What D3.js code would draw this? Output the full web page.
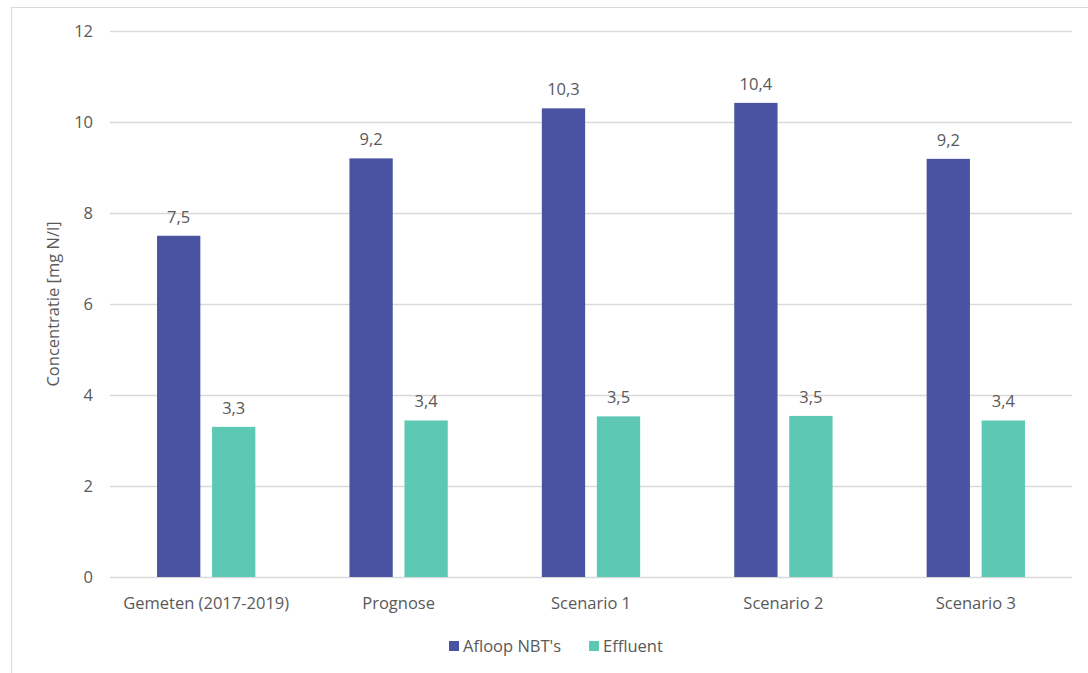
<!DOCTYPE html>
<html>
<head>
<meta charset="utf-8">
<script src="https://cdn.jsdelivr.net/npm/d3@7"></script>
<style>
  body { margin: 0; background: #fff; }
  text { font-family: "Open Sans", sans-serif; fill: #595959; }
</style>
</head>
<body>
<div id="chart"></div>
<script>
// data
const categories = ["Gemeten (2017-2019)", "Prognose", "Scenario 1", "Scenario 2", "Scenario 3"]
const seriesNames = ["Afloop NBT's", "Effluent"]
const afloop = [7.5, 9.2, 10.3, 10.42, 9.19]
const effluent = [3.3, 3.44, 3.53, 3.54, 3.44]
const yTicks = [0, 2, 4, 6, 8, 10, 12]
const colors = ["#4A52A2", "#5DC9B4"]

var width = 1088,
    height = 673
var margin = {top: 31, right: 16, bottom: 96, left: 110}
var fontSize = "16.5px"

var svg = d3.select("#chart")
  .append("svg")
    .attr("width", width)
    .attr("height", height)

// outer frame
svg.append("rect")
  .attr("x", 11.5).attr("y", 7.5)
  .attr("width", 1100).attr("height", 700)
  .attr("fill", "none")
  .attr("stroke", "#d9d9d9")

var x0 = d3.scaleBand()
  .domain(categories)
  .range([margin.left, width - margin.right])

var x1 = d3.scaleBand()
  .domain(seriesNames)
  .range([0, x0.bandwidth()])
  .paddingInner(0.213)
  .paddingOuter(0.855)

var y = d3.scaleLinear()
  .domain([0, 12])
  .range([height - margin.bottom, margin.top])

// gridlines
svg.append("g")
  .selectAll("line")
  .data(yTicks)
  .enter()
  .append("line")
    .attr("x1", margin.left)
    .attr("x2", width - margin.right)
    .attr("y1", d => y(d) + 0.5)
    .attr("y2", d => y(d) + 0.5)
    .attr("stroke", "#d9d9d9")
    .attr("stroke-width", 1.5)

// y tick labels
svg.append("g")
  .selectAll("text")
  .data(yTicks)
  .enter()
  .append("text")
    .attr("x", 93)
    .attr("y", d => y(d))
    .attr("dy", "0.35em")
    .attr("text-anchor", "end")
    .style("font-size", fontSize)
    .text(d => d)

// y axis title
svg.append("text")
  .attr("transform", "translate(59," + (y(0) + y(12)) / 2 + ") rotate(-90)")
  .attr("text-anchor", "middle")
  .style("font-size", fontSize)
  .text("Concentratie [mg N/l]")

// bars
var rows = categories.map((c, i) => ({cat: c, vals: [afloop[i], effluent[i]]}))

var groups = svg.append("g")
  .selectAll("g")
  .data(rows)
  .enter()
  .append("g")
    .attr("transform", d => "translate(" + x0(d.cat) + ",0)")

groups.selectAll("rect")
  .data(d => d.vals.map((v, j) => ({key: seriesNames[j], value: v, j: j})))
  .enter()
  .append("rect")
    .attr("x", d => x1(d.key))
    .attr("y", d => y(d.value))
    .attr("width", x1.bandwidth())
    .attr("height", d => y(0) - y(d.value))
    .attr("fill", d => colors[d.j])

groups.selectAll("text")
  .data(d => d.vals.map((v, j) => ({key: seriesNames[j], value: v})))
  .enter()
  .append("text")
    .attr("x", d => x1(d.key) + x1.bandwidth() / 2)
    .attr("y", d => y(d.value) - 13)
    .attr("text-anchor", "middle")
    .style("font-size", fontSize)
    .text(d => d3.format(".1f")(d.value).replace(".", ","))

// category labels
svg.append("g")
  .selectAll("text")
  .data(categories)
  .enter()
  .append("text")
    .attr("x", d => x0(d) + x0.bandwidth() / 2)
    .attr("y", y(0) + 32)
    .attr("text-anchor", "middle")
    .style("font-size", fontSize)
    .text(d => d)

// legend
var legend = svg.append("g")
var lx = [449, 589]
seriesNames.forEach((s, i) => {
  legend.append("rect")
    .attr("x", lx[i]).attr("y", 641)
    .attr("width", 10).attr("height", 10)
    .attr("fill", colors[i])
  legend.append("text")
    .attr("x", lx[i] + 14).attr("y", 646)
    .attr("dy", "0.35em")
    .style("font-size", fontSize)
    .text(s)
})
</script>
</body>
</html>
